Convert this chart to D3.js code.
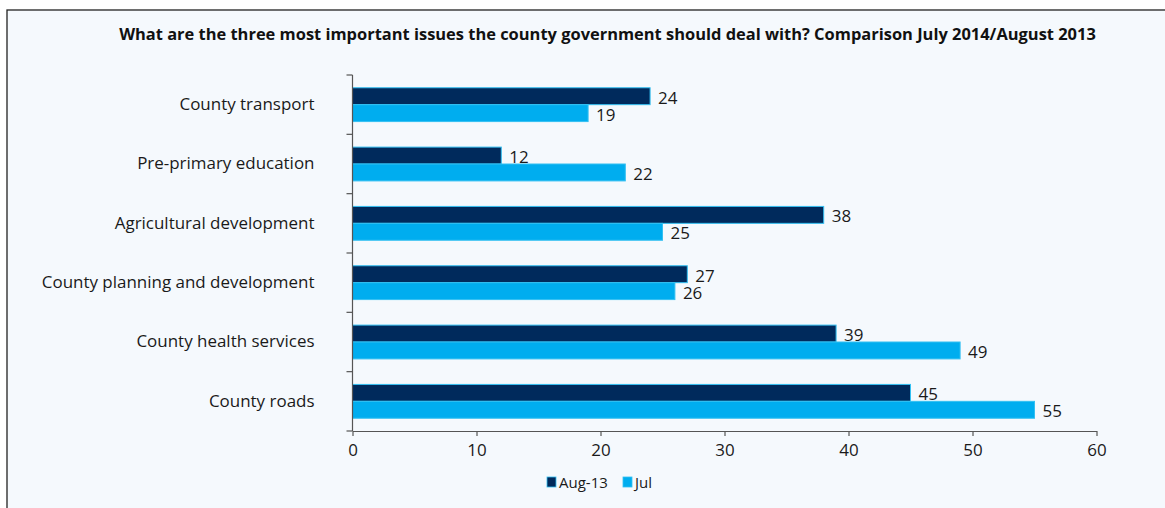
<!DOCTYPE html>
<html>
<head>
<meta charset="utf-8">
<script src="https://cdn.jsdelivr.net/npm/d3@7"></script>
<style>
  body { margin: 0; background: #fff; }
  svg { display: block; font-family: "Open Sans", sans-serif; }
  .axis path, .axis line { stroke: #555; stroke-width: 1.2; }
  .axis text { fill: #1a1a1a; }
  .val { fill: #1a1a1a; }
  .title { font-weight: bold; fill: #111; }
  .legend text { font-size: 15px; fill: #1a1a1a; }
</style>
</head>
<body>
<svg id="chart" width="1165" height="508"></svg>
<script>
// categories top to bottom
const categories = ["County transport", "Pre-primary education", "Agricultural development",
  "County planning and development", "County health services", "County roads"];
const series = ["Aug-13", "Jul"];
const aug13 = [24, 12, 38, 27, 39, 45];
const jul = [19, 22, 25, 26, 49, 55];
const xTicks = [0, 10, 20, 30, 40, 50, 60];
const colors = ["#002a5c", "#00adef"];

const svg = d3.select("#chart");
const W = 1165, H = 508;
const margin = {left: 352.5, right: 1096.5, top: 75, bottom: 431};

// fit a text node to a target width by scaling its font size
function fitWidth(sel, size, target) {
  sel.style("font-size", size + "px");
  const w = sel.node().getComputedTextLength();
  const s = size * target / w;
  sel.style("font-size", s + "px");
  return s;
}

// panel background and border
svg.append("rect")
  .attr("x", 7).attr("y", 10)
  .attr("width", W + 10).attr("height", H + 10)
  .attr("fill", "#f5f9fd")
  .attr("stroke", "#222").attr("stroke-width", 1.3);

const title = svg.append("text")
  .attr("class", "title")
  .attr("x", 607.5).attr("y", 40)
  .attr("text-anchor", "middle")
  .text("What are the three most important issues the county government should deal with? Comparison July 2014/August 2013");
fitWidth(title, 14, 977);

// size of the long category label sets the label font
const probe = svg.append("text").text(categories[3]);
const labelSize = fitWidth(probe, 15, 273);
probe.remove();

const x = d3.scaleLinear().domain([0, 60]).range([margin.left, margin.right]);
const y0 = d3.scaleBand().domain(categories).range([margin.top, margin.bottom]).padding(0);
const step = y0.step();
const y1 = d3.scaleBand().domain(series).range([step * 0.215, step * 0.785]).padding(0);

const rows = categories.map((c, i) => ({cat: c, vals: [aug13[i], jul[i]]}));

const groups = svg.append("g").selectAll("g")
  .data(rows).enter().append("g")
  .attr("transform", d => `translate(0,${y0(d.cat)})`);

groups.selectAll("rect")
  .data(d => d.vals.map((v, j) => ({s: series[j], v: v, j: j})))
  .enter().append("rect")
  .attr("x", x(0))
  .attr("y", d => y1(d.s))
  .attr("width", d => x(d.v) - x(0))
  .attr("height", y1.bandwidth())
  .attr("fill", d => colors[d.j])
  .attr("stroke", "#33c0f2").attr("stroke-width", 1);

groups.selectAll("text")
  .data(d => d.vals.map((v, j) => ({s: series[j], v: v})))
  .enter().append("text")
  .attr("class", "val")
  .style("font-size", labelSize + "px")
  .attr("x", d => x(d.v) + 8)
  .attr("y", d => y1(d.s) + y1.bandwidth() / 2 + 7.5)
  .text(d => d.v);

// axes
const yAxis = svg.append("g").attr("class", "axis")
  .attr("transform", `translate(${margin.left},0)`)
  .call(d3.axisLeft(y0).tickSize(0).tickPadding(38));
yAxis.attr("font-family", null).attr("font-size", null);
yAxis.selectAll("text").style("font-size", labelSize + "px");
yAxis.select(".domain").remove();
yAxis.append("line").attr("x1", 0).attr("x2", 0)
  .attr("y1", margin.top).attr("y2", margin.bottom);
yAxis.selectAll(".bound")
  .data(d3.range(categories.length + 1)).enter().append("line")
  .attr("x1", -6).attr("x2", 0)
  .attr("y1", i => margin.top + i * step).attr("y2", i => margin.top + i * step);

const xAxis = svg.append("g").attr("class", "axis")
  .attr("transform", `translate(0,${margin.bottom})`)
  .call(d3.axisBottom(x).tickValues(xTicks).tickSize(5).tickPadding(8).tickSizeOuter(0));
xAxis.attr("font-family", null).attr("font-size", null);
xAxis.selectAll("text").style("font-size", labelSize + "px");

// legend
const legend = svg.append("g").attr("class", "legend")
  .attr("transform", "translate(547,477)");
const lx = [0, 76];
series.forEach((s, i) => {
  legend.append("rect").attr("x", lx[i]).attr("y", 0).attr("width", 9).attr("height", 10)
    .attr("fill", colors[i]).attr("stroke", "#33c0f2").attr("stroke-width", 0.8);
  legend.append("text").attr("x", lx[i] + 12).attr("y", 10.5).text(s);
});
</script>
</body>
</html>
